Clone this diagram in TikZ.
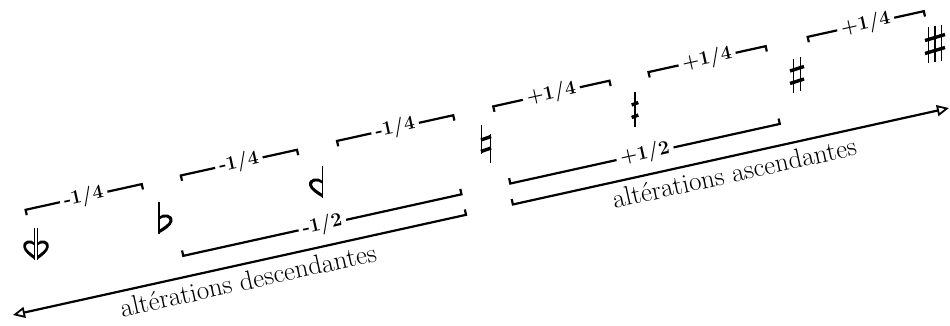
\documentclass[tikz,border=0pt]{standalone}
\usetikzlibrary{arrows.meta}
\newcommand\myflatshape{%
  \fill (-6,0) .. controls (-2,5) and (8.5,3) .. (7.5,-4) .. controls (6.5,-9) and (0,-13) .. (-6,-16.5)
     -- (-6,-13) .. controls (-1.5,-10) and (4.5,-6.5) .. (4.5,-3.5) .. controls (4.5,0) and (-1,1) .. (-6,-2.5) -- cycle;
  \draw[stemline] (-6,15) -- (-6,-16.5);}
\begin{document}
\begin{tikzpicture}[x=1pt,y=1pt,
  brk/.style={line width=2.2pt},
  lab/.style={font=\fontsize{19.5}{19.5}\selectfont\bfseries, inner xsep=4pt, inner ysep=1pt, transform shape},
  captext/.style={font=\fontsize{27}{27}\selectfont, anchor=base, transform shape},
  stemline/.style={line width=1.5pt},
  barline/.style={line width=3.4pt},
  tip/.style={-{Triangle[open,length=12pt,width=11pt,line width=1.8pt]}},
  glyphflat/.pic={\myflatshape},
  glyphsesqui/.pic={
    \begin{scope}[xscale=0.85,xshift=7.5]\myflatshape\end{scope}
    \begin{scope}[xscale=-0.85,xshift=7.5]\myflatshape\end{scope}},
  glyphnatural/.pic={
    \draw[stemline] (-4.5,19) -- (-4.5,-9.5);
    \draw[stemline] (4.5,9.5) -- (4.5,-19);
    \draw[barline] (-5,4) -- (5,7.5);
    \draw[barline] (-5,-7.5) -- (5,-4);},
  glyphhalfsharp/.pic={
    \draw[stemline] (0,17.5) -- (0,-17.5);
    \draw[barline] (-3.3,5) -- (3.3,7.5);
    \draw[barline] (-3.3,-7.5) -- (3.3,-5);},
  glyphsharp/.pic={
    \draw[stemline] (-3.5,16) -- (-3.5,-18);
    \draw[stemline] (3.5,18) -- (3.5,-16);
    \draw[barline] (-7,4) -- (7,8.5);
    \draw[barline] (-7,-8.5) -- (7,-4);},
  glyphtqsharp/.pic={
    \draw[stemline] (-6.5,17) -- (-6.5,-19);
    \draw[stemline] (0,18) -- (0,-18);
    \draw[stemline] (6.5,19) -- (6.5,-17);
    \draw[barline] (-10,3.5) -- (10,9.5);
    \draw[barline] (-10,-9.5) -- (10,-3.5);}
]
\useasboundingbox (0,0) rectangle (950,-326);
\begin{scope}[shift={(13,-315)}, rotate=12.47]
  % upper brackets (quarter tones)
  \foreach \i/\s/\e/\t in {1/35/154/{-1/4}, 2/194/313/{-1/4}, 3/354/473/{-1/4},
                            4/514/633/{+1/4}, 5/673/793/{+1/4}, 6/836/955/{+1/4}}{
    \coordinate (ua\i) at (\s,100);
    \coordinate (uat\i) at (\s,94.5);
    \coordinate (ub\i) at (\e,100);
    \coordinate (ubt\i) at (\e,94.5);
    \node[lab] (ul\i) at ({(\s+\e)/2},100) {\t};
    \draw[brk] (uat\i) -- (ua\i) -- (ul\i);
    \draw[brk] (ubt\i) -- (ub\i) -- (ul\i);
  }
  % lower brackets (half tones)
  \coordinate (la) at (179,21);  \coordinate (lat) at (179,26.5);
  \coordinate (lb) at (464,21);  \coordinate (lbt) at (464,26.5);
  \node[lab] (ll) at (321.5,21) {-1/2};
  \draw[brk] (lat) -- (la) -- (ll);
  \draw[brk] (lbt) -- (lb) -- (ll);
  \coordinate (ra) at (514,21);  \coordinate (rat) at (514,26.5);
  \coordinate (rb) at (790,21);  \coordinate (rbt) at (790,26.5);
  \node[lab] (rl) at (652,21) {+1/2};
  \draw[brk] (rat) -- (ra) -- (rl);
  \draw[brk] (rbt) -- (rb) -- (rl);
  % main arrows
  \coordinate (dtick) at (464,5.5);
  \coordinate (dstart) at (464,0);
  \coordinate (dend) at (0,0);
  \draw[brk,tip] (dtick) -- (dstart) -- (dend);
  \node[captext] (cd) at (237,-26) {altérations descendantes};
  \coordinate (atick) at (512,5.5);
  \coordinate (astart) at (512,0);
  \coordinate (aend) at (958.6,0);
  \draw[brk,tip] (atick) -- (astart) -- (aend);
  \node[captext] (ca) at (735,-26) {altérations ascendantes};
\end{scope}
% accidentals (upright)
\coordinate (s1) at (36,-243);
\coordinate (s2) at (165,-217);
\coordinate (s3) at (316.5,-181);
\coordinate (s4) at (486,-144);
\coordinate (s5) at (635,-110);
\coordinate (s6) at (797,-75);
\coordinate (s7) at (935,-44);
\pic at (s1) {glyphsesqui};
\pic at (s2) {glyphflat};
\pic[xscale=-1] at (s3) {glyphflat};
\pic at (s4) {glyphnatural};
\pic at (s5) {glyphhalfsharp};
\pic at (s6) {glyphsharp};
\pic at (s7) {glyphtqsharp};
\end{tikzpicture}
\end{document}
